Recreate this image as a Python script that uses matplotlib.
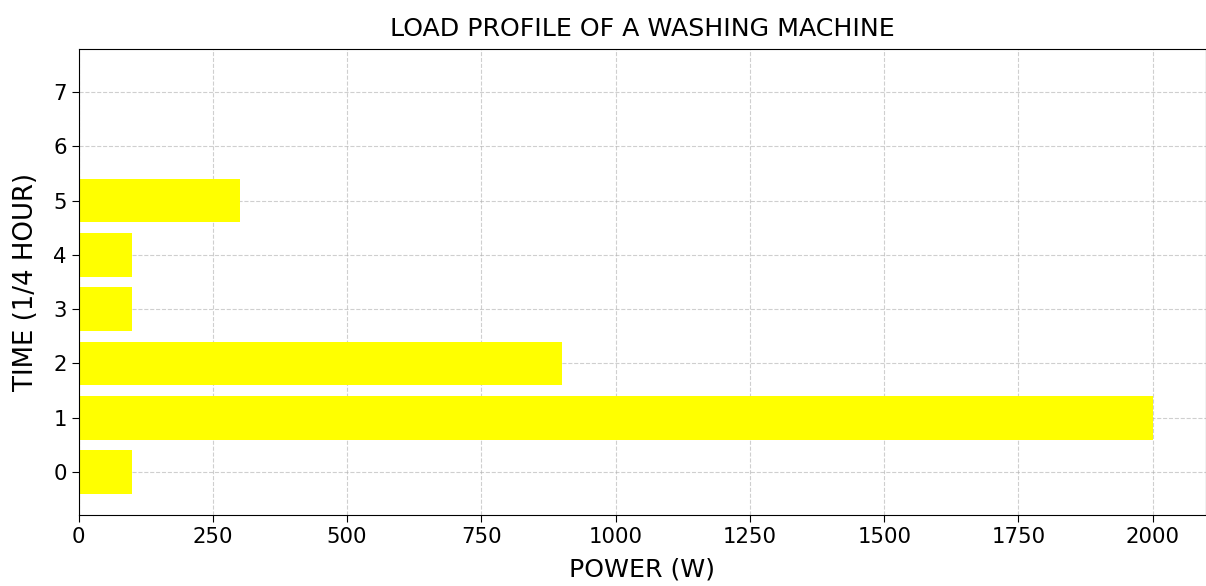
import matplotlib
matplotlib.use("Agg")
import matplotlib.pyplot as plt

time_slots = [0, 1, 2, 3, 4, 5, 6, 7]
power_w = [100, 2000, 900, 100, 100, 300, 0, 0]

fig = plt.figure(figsize=(12.06, 5.86), dpi=100)
ax = fig.add_axes([78.5/1206, 1 - 515/586, (1206.5 - 78.5)/1206, (515 - 49)/586])
ax.barh(time_slots, power_w, color="yellow")
ax.set_yticks(time_slots)
ax.grid(True, linestyle="--", color="#b0b0b0", alpha=0.6)
ax.set_axisbelow(True)
ax.set_title("LOAD PROFILE OF A WASHING MACHINE", fontsize=18.2, pad=9)
ax.set_xlabel("POWER (W)", fontsize=18.2, labelpad=8)
ax.set_ylabel("TIME (1/4 HOUR)", fontsize=18.7, labelpad=10)
ax.tick_params(labelsize=15.3, length=5)
fig.savefig("out.png", dpi=100)
